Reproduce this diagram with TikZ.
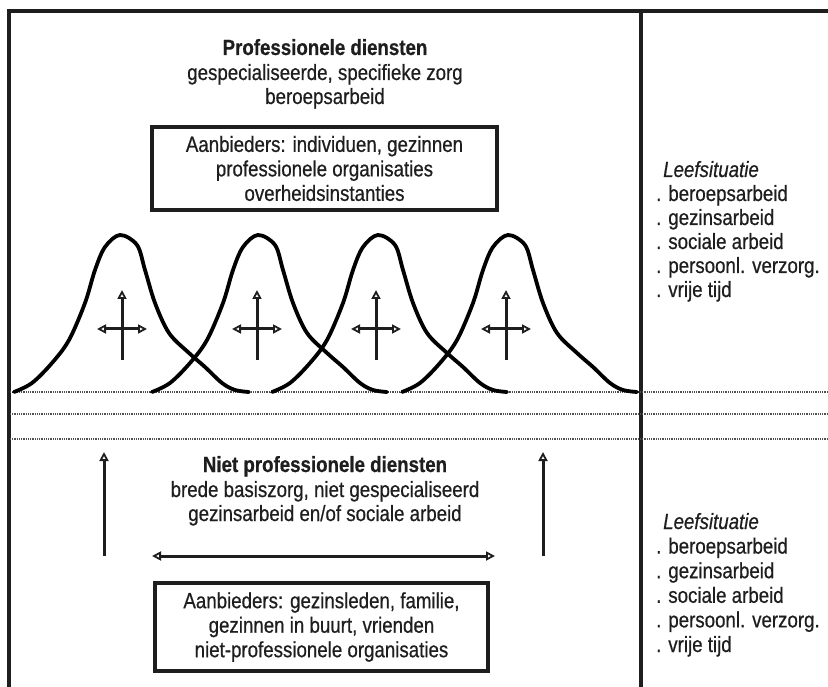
\documentclass[tikz,border=0pt]{standalone}
\usepackage{fontspec}
\setmainfont[FakeStretch=0.85,FakeBold=0.6]{Liberation Sans}
\usetikzlibrary{arrows.meta}
\definecolor{ink}{HTML}{1E1E1E}
\definecolor{dotgray}{HTML}{505050}
\begin{document}
\begin{tikzpicture}[x=1pt,y=-1pt,
  frame/.style={draw=ink,line width=3.2pt},
  dotline/.style={draw=dotgray,line width=1.8pt,dash pattern=on 1pt off 0.8pt},
  bell/.style={draw=black,line width=3.8pt,line join=round,line cap=round},
  head/.tip={Triangle[open,length=9pt,width=9pt,line width=1.8pt]},
  move/.style={draw=ink,line width=3pt},
  lbl/.style={font=\fontsize{22}{24.5}\selectfont,text=ink,inner sep=0pt},
  hdr/.style={lbl,font=\fontsize{22}{24.5}\selectfont\bfseries},
  provider/.style={lbl,draw=ink,line width=3.6pt,align=center},
]
\useasboundingbox (0,0) rectangle (828,687);

% outer frame and column divider
\draw[frame] (828,11) -- (9,11) -- (9,687);
\draw[frame] (641,11) -- (641,687);

% dotted separators
\foreach \yy in {392,414,439}
  \draw[dotline] (10,\yy) -- (828,\yy);

% headings of the upper part
\node[hdr,anchor=base] (ph1) at (325,55) {Professionele diensten};
\node[lbl,anchor=base] (ph2) at (325,80) {gespecialiseerde, specifieke zorg};
\node[lbl,anchor=base] (ph3) at (325,104) {beroepsarbeid};

\node[provider,minimum width=345pt,minimum height=83pt] (pbox) at (324.5,168.5)
  {Aanbieders: individuen, gezinnen\\professionele organisaties\\overheidsinstanties};

% bell-shaped curves
\foreach \s in {14,152,272,402}
  \draw[bell,shift={(\s,392)}] plot[smooth,tension=0.55] coordinates {
    (0,0) (18,-9) (38,-29) (55,-52) (71,-89) (81,-122) (91,-145) (106,-157)
    (123,-147) (131,-122) (141,-89) (155,-59) (175,-39) (191,-25) (208,-9)
    (221,-2) (235,0)};

% movement crosses
\foreach \c [count=\i] in {122,257,376,506} {
  \coordinate (cl\i) at (\c-25,329);
  \coordinate (cr\i) at (\c+25,329);
  \coordinate (cb\i) at (\c,360);
  \coordinate (ct\i) at (\c,290);
  \draw[move,{head}-{head}] (cl\i) -- (cr\i);
  \draw[move,-{head}] (cb\i) -- (ct\i);
}

% lower part
\node[hdr,anchor=base] (nh1) at (325,472) {Niet professionele diensten};
\node[lbl,anchor=base] (nh2) at (325,497) {brede basiszorg, niet gespecialiseerd};
\node[lbl,anchor=base] (nh3) at (325,521) {gezinsarbeid en/of sociale arbeid};

\coordinate (la) at (104,556);
\coordinate (lb) at (104,452);
\coordinate (ra) at (543,556);
\coordinate (rb) at (543,452);
\coordinate (hl) at (152,556);
\coordinate (hr) at (495,556);
\draw[move,-{head}] (la) -- (lb);
\draw[move,-{head}] (ra) -- (rb);
\draw[move,{head}-{head}] (hl) -- (hr);

\node[provider,minimum width=333pt,minimum height=88pt] (nbox) at (321.5,627)
  {Aanbieders: gezinsleden, familie,\\gezinnen in buurt, vrienden\\niet-professionele organisaties};

% living situation lists
\node[lbl,anchor=base west,font=\fontsize{22}{24.5}\selectfont\itshape] (ta) at (663,177) {Leefsituatie};
\foreach \t [count=\i] in {. beroepsarbeid,. gezinsarbeid,. sociale arbeid,. persoonl. verzorg.,. vrije tijd}
  \node[lbl,anchor=base west] (t\i) at (656,177+\i*24) {\t};

\node[lbl,anchor=base west,font=\fontsize{22}{24.5}\selectfont\itshape] (ba) at (663,529) {Leefsituatie};
\foreach \t [count=\i] in {. beroepsarbeid,. gezinsarbeid,. sociale arbeid,. persoonl. verzorg.,. vrije tijd}
  \node[lbl,anchor=base west] (b\i) at (656,529+\i*24.6) {\t};
\end{tikzpicture}
\end{document}
